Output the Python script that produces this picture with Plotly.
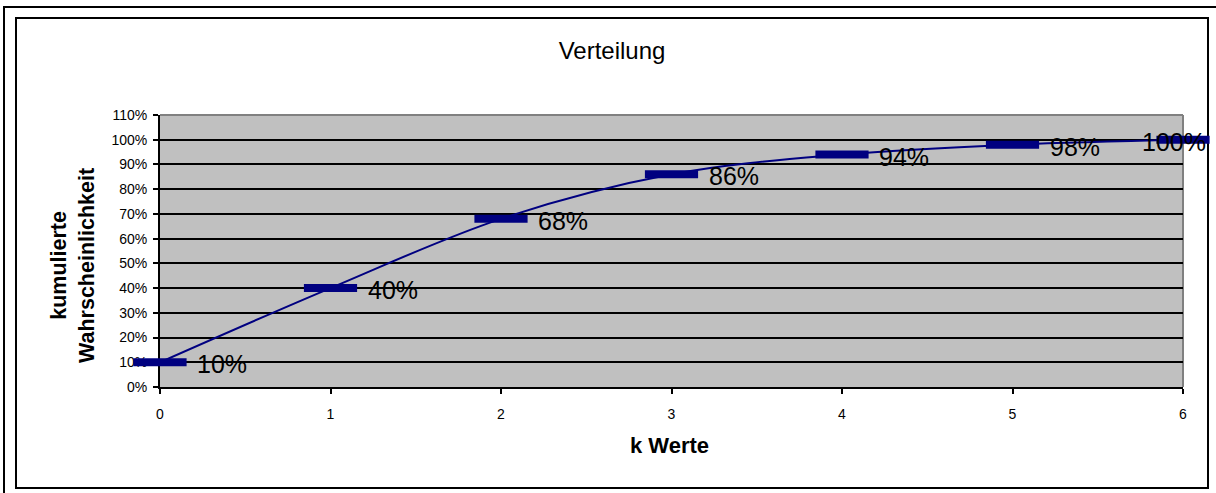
import plotly.graph_objects as go

# ---- data ----
k_values = [0, 1, 2, 3, 4, 5, 6]
cum_prob = [0.10, 0.40, 0.68, 0.86, 0.94, 0.98, 1.00]
point_labels = [f"{round(v * 100)}%" for v in cum_prob]
y_ticks = [i / 10 for i in range(0, 12)]
y_tick_text = [f"{i * 10}%" for i in range(0, 12)]
x_ticks = [0, 1, 2, 3, 4, 5, 6]

title_text = "Verteilung"
x_title = "k Werte"
y_title = "kumulierte<br>Wahrscheinlichkeit"

# ---- geometry (pixels) ----
W, H = 1216, 493
L, R, T, B = 160, 1183, 115, 387
FONT = "Liberation Sans, Arial, sans-serif"
NAVY = "#000080"


def px_x(p):
    return (p - L) / (R - L)


def px_y(p):
    return (B - p) / (B - T)


fig = go.Figure()

fig.add_trace(go.Scatter(
    x=k_values, y=cum_prob, mode="lines",
    line=dict(shape="spline", smoothing=1, color=NAVY, width=2),
    hoverinfo="skip", showlegend=False,
))
fig.add_trace(go.Scatter(
    x=k_values, y=cum_prob, mode="markers",
    marker=dict(symbol="line-ew", size=38, line=dict(width=8, color=NAVY)),
    cliponaxis=False, showlegend=False,
))

annotations = []
for i, (kx, v, lab) in enumerate(zip(k_values, cum_prob, point_labels)):
    last = i == len(k_values) - 1
    annotations.append(dict(
        x=kx, y=v, xref="x", yref="y", text=lab, showarrow=False,
        xanchor="center" if last else "left",
        xshift=-9 if last else 35, yshift=-2,
        font=dict(family=FONT, size=25, color="#000000"),
    ))

# axis titles
annotations.append(dict(
    x=px_x(669), y=px_y(445), xref="paper", yref="paper", text=f"<b>{x_title}</b>",
    showarrow=False, xanchor="center", yanchor="middle",
    font=dict(family=FONT, size=22, color="#000000"),
))
annotations.append(dict(
    x=px_x(73), y=px_y(266), xref="paper", yref="paper", text=f"<b>{y_title}</b>",
    showarrow=False, xanchor="center", yanchor="middle", textangle=-90,
    font=dict(family=FONT, size=21.5, color="#000000"),
))

shapes = [
    # outer frame (extends past the image)
    dict(type="rect", xref="paper", yref="paper",
         x0=px_x(4), x1=px_x(1240), y0=px_y(7), y1=px_y(520),
         line=dict(color="#000000", width=2), fillcolor="rgba(0,0,0,0)", layer="below"),
    # inner chart frame
    dict(type="rect", xref="paper", yref="paper",
         x0=px_x(16), x1=px_x(1208), y0=px_y(18), y1=px_y(488),
         line=dict(color="#000000", width=2), fillcolor="rgba(0,0,0,0)", layer="below"),
    # plot-area gray border top/right
    dict(type="line", xref="paper", yref="paper", x0=0, x1=1, y0=1, y1=1,
         line=dict(color="#808080", width=2), layer="between"),
    dict(type="line", xref="paper", yref="paper", x0=1, x1=1, y0=0, y1=1,
         line=dict(color="#808080", width=2), layer="between"),
]

fig.update_layout(
    width=W, height=H,
    margin=dict(l=L, r=W - R, t=T, b=H - B, pad=0),
    paper_bgcolor="#FFFFFF", plot_bgcolor="#C0C0C0",
    title=dict(text=title_text, x=612 / W, xref="container", xanchor="center",
               y=1 - 51 / H, yref="container", yanchor="middle",
               font=dict(family=FONT, size=24, color="#000000")),
    annotations=annotations, shapes=shapes,
    showlegend=False,
)
fig.update_xaxes(
    range=[0, 6], tickvals=x_ticks, ticktext=[str(t) for t in x_ticks],
    showgrid=False, zeroline=False, showline=True, linecolor="#000000", linewidth=2,
    ticks="outside", ticklen=5, tickwidth=2, tickcolor="#000000",
    tickfont=dict(family=FONT, size=14, color="#000000"),
    ticklabelstandoff=8, layer="below traces", fixedrange=True,
)
fig.update_yaxes(
    range=[0, 1.1], tickvals=y_ticks, ticktext=y_tick_text,
    showgrid=True, gridcolor="#000000", gridwidth=2, zeroline=False,
    showline=True, linecolor="#000000", linewidth=2,
    ticks="outside", ticklen=5, tickwidth=2, tickcolor="#000000",
    tickfont=dict(family=FONT, size=14, color="#000000"),
    ticklabelstandoff=3, layer="below traces", fixedrange=True,
)

fig.write_html(
    "out.html",
    config={"displayModeBar": False},
    post_script="document.body.style.margin='0';document.body.style.padding='0';",
)
